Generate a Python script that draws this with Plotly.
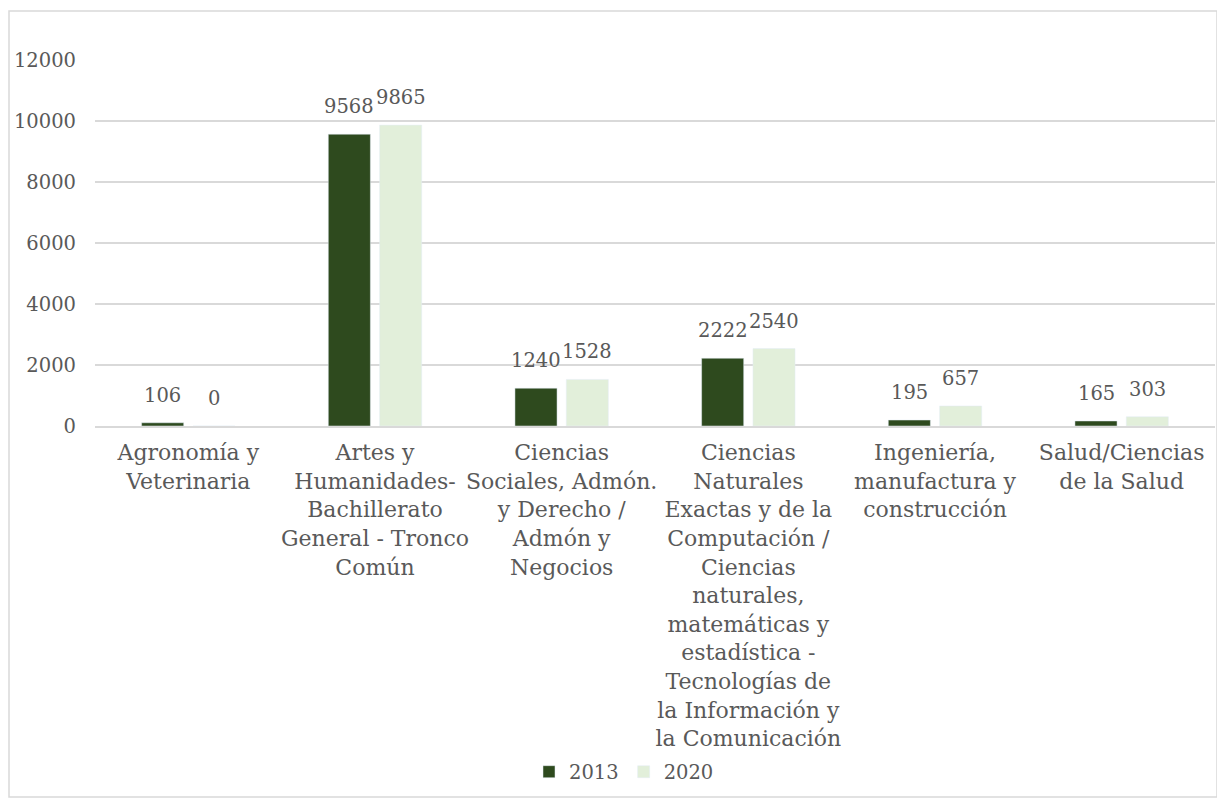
import plotly.graph_objects as go

categories = [
    "Agronomía y<br>Veterinaria",
    "Artes y<br>Humanidades-<br>Bachillerato<br>General - Tronco<br>Común",
    "Ciencias<br>Sociales, Admón.<br>y Derecho /<br>Admón y<br>Negocios",
    "Ciencias<br>Naturales<br>Exactas y de la<br>Computación /<br>Ciencias<br>naturales,<br>matemáticas y<br>estadística -<br>Tecnologías de<br>la Información y<br>la Comunicación",
    "Ingeniería,<br>manufactura y<br>construcción",
    "Salud/Ciencias<br>de la Salud",
]
values_2013 = [106, 9568, 1240, 2222, 195, 165]
values_2020 = [0, 9865, 1528, 2540, 657, 303]
y_ticks = [0, 2000, 4000, 6000, 8000, 10000, 12000]
y_tick_labels = ["0", "2000", "4000", "6000", "8000", "10000", "12000"]

FONT = "DejaVu Serif"
GRAY = "#595959"
COLORS = {"2013": "#2E4A1E", "2020": "#E2EFDA"}

# page body has an 8px margin, so figure coords = reference px - 8
OFF = 8
W, H = 1210, 790
L, T = 95 - OFF, 60 - OFF
plot_right, plot_bottom = 1215 - OFF, 426 - OFF
R, B = W - plot_right, H - plot_bottom
pw, ph = W - L - R, H - T - B
BARGAP = 0.45

def px_x(x):
    return (x - OFF - L) / pw

def px_y(y):
    return (plot_bottom - (y - OFF)) / ph

fig = go.Figure()
series = [("2013", values_2013), ("2020", values_2020)]
for name, vals in series:
    fig.add_bar(x=categories, y=vals, name=name, marker_color=COLORS[name])

# data labels placed above each bar (offset by half a bar slot)
slot_px = pw / len(categories) * (1 - BARGAP) / len(series)
for i, (name, vals) in enumerate(series):
    xshift = (i - (len(series) - 1) / 2) * slot_px
    for cat, v in zip(categories, vals):
        fig.add_annotation(x=cat, y=v, xref="x", yref="y", text=str(v),
                           showarrow=False, xshift=xshift, yanchor="bottom",
                           yshift=14,
                           font=dict(size=19.5, color=GRAY, family=FONT))

fig.add_shape(type="rect", xref="paper", yref="paper",
              x0=px_x(9), x1=px_x(1217), y0=px_y(797), y1=px_y(11),
              line=dict(color="#D9D9D9", width=1.5), layer="below")

fig.update_layout(
    width=W, height=H,
    margin=dict(l=L, r=R, t=T, b=B),
    paper_bgcolor="white", plot_bgcolor="white",
    barmode="group", bargap=BARGAP, bargroupgap=0.18,
    font=dict(family=FONT, size=20, color=GRAY),
    showlegend=True,
    legend=dict(orientation="h", x=px_x(624), xanchor="center",
                y=px_y(772), yanchor="middle",
                font=dict(size=19.5, color=GRAY, family=FONT),
                itemwidth=30, traceorder="normal"),
    xaxis=dict(tickfont=dict(size=22, color=GRAY, family=FONT),
               tickangle=0,
               showline=True, linecolor="#D9D9D9", linewidth=1.5,
               ticks="", showgrid=False, ticklabelstandoff=6),
    yaxis=dict(range=[0, 12000], tickvals=y_ticks, ticktext=y_tick_labels,
               tickfont=dict(size=19.5, color=GRAY, family=FONT),
               showgrid=True, gridcolor="#D9D9D9", gridwidth=1.5,
               zeroline=False, showline=False, ticks="",
               ticklabelstandoff=18),
)

fig.write_html("out.html")
